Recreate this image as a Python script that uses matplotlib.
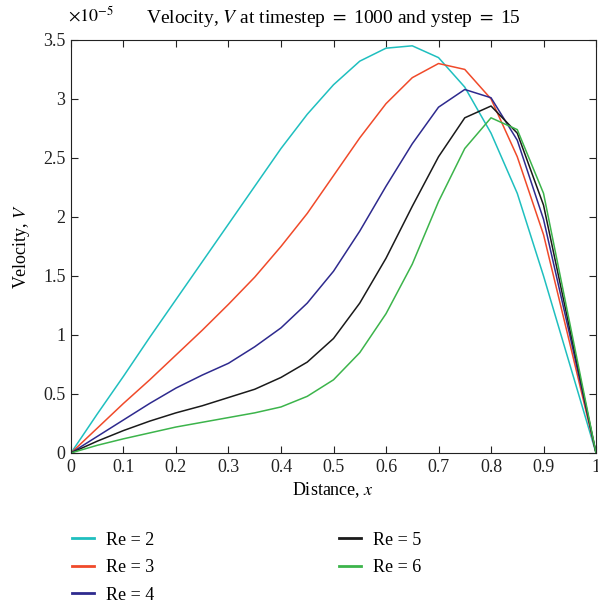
import numpy as np
import matplotlib
matplotlib.use("Agg")
from matplotlib import pyplot as plt

plt.rcParams['font.family'] = ['Liberation Serif', 'DejaVu Serif']
plt.rcParams['mathtext.fontset'] = 'stix'

# distance along x (step 0.05)
x = [0.0, 0.05, 0.1, 0.15, 0.2, 0.25, 0.3, 0.35, 0.4, 0.45, 0.5,
     0.55, 0.6, 0.65, 0.7, 0.75, 0.8, 0.85, 0.9, 0.95, 1.0]

# velocity in units of 1e-5
v_re2 = [0, 0.33, 0.65, 0.98, 1.30, 1.62, 1.94, 2.26, 2.58, 2.87, 3.12,
         3.32, 3.43, 3.45, 3.35, 3.10, 2.71, 2.20, 1.50, 0.75, 0]
v_re3 = [0, 0.21, 0.42, 0.62, 0.83, 1.04, 1.26, 1.49, 1.75, 2.03, 2.35,
         2.67, 2.96, 3.18, 3.30, 3.25, 3.00, 2.51, 1.85, 0.93, 0]
v_re4 = [0, 0.14, 0.28, 0.42, 0.55, 0.66, 0.76, 0.90, 1.06, 1.27, 1.54,
         1.88, 2.26, 2.62, 2.93, 3.08, 3.01, 2.65, 1.98, 1.0, 0]
v_re5 = [0, 0.10, 0.19, 0.27, 0.34, 0.40, 0.47, 0.54, 0.64, 0.77, 0.97,
         1.27, 1.65, 2.09, 2.51, 2.84, 2.94, 2.71, 2.10, 1.05, 0]
v_re6 = [0, 0.065, 0.12, 0.17, 0.22, 0.26, 0.30, 0.34, 0.39, 0.48, 0.62,
         0.85, 1.18, 1.60, 2.13, 2.58, 2.84, 2.74, 2.20, 1.10, 0]

series = [v_re2, v_re3, v_re4, v_re5, v_re6]
labels = ['Re = 2', 'Re = 3', 'Re = 4', 'Re = 5', 'Re = 6']
colors = ['#1fbfbf', '#f04a2a', '#2e2a8e', '#1a1a1a', '#3cb44b']

fig = plt.figure(figsize=(5.98, 6.03), dpi=100)
ax = fig.add_axes([0.1187, 0.2488, 0.878, 0.685])

for v, lab, c in zip(series, labels, colors):
    ax.plot(x, v, color=c, lw=1.1, label=lab)

ax.set_xlim(0, 1)
ax.set_ylim(0, 3.5)
ax.set_xticks(np.arange(0, 1.01, 0.1))
ax.set_xticklabels(['0', '0.1', '0.2', '0.3', '0.4', '0.5', '0.6', '0.7', '0.8', '0.9', '1'])
ax.set_yticks(np.arange(0, 3.51, 0.5))
ax.set_yticklabels(['0', '0.5', '1', '1.5', '2', '2.5', '3', '3.5'])
ax.tick_params(direction='in', length=5, top=True, right=True, labelsize=13, colors='#222222', pad=4)
for s in ax.spines.values():
    s.set_color('#222222')

ax.set_xlabel('Distance, $x$', fontsize=13, labelpad=3)
ax.set_ylabel('Velocity, $V$', fontsize=13, labelpad=8)
ax.set_title('Velocity, $V$ at timestep $=$ 1000 and ystep $=$ 15', fontsize=14, pad=12)
ax.text(-0.005, 1.035, r'$\times10^{-5}$', transform=ax.transAxes, fontsize=13, va='bottom', ha='left')

leg = fig.legend(loc='upper left', bbox_to_anchor=(0.093, 0.145), ncol=2, frameon=False,
                 fontsize=13, handlelength=1.25, handletextpad=0.65, columnspacing=10.2,
                 labelspacing=0.58)
for h in leg.get_lines():
    h.set_linewidth(2)

fig.savefig('out.png', dpi=100)
